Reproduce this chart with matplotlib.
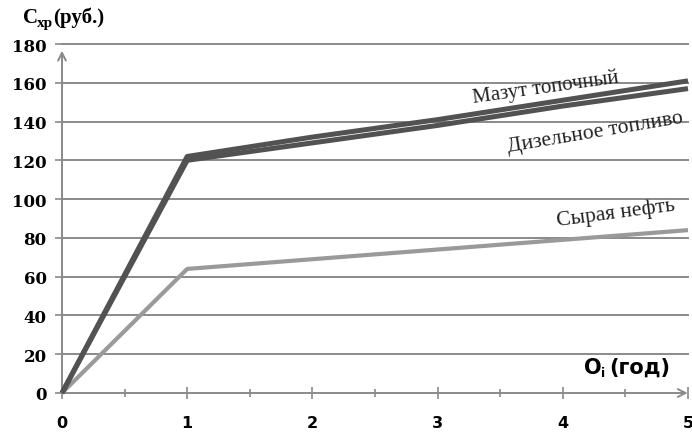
import matplotlib
matplotlib.use("Agg")
import matplotlib.pyplot as plt

years = [0, 1, 2, 3, 4, 5]
mazut = [0, 122, 132, 141, 151, 161]
diesel = [0, 120, 129, 138, 148, 157]
crude = [0, 64, 69, 74, 79, 84]
yticks = [0, 20, 40, 60, 80, 100, 120, 140, 160, 180]
xticks = [0, 1, 2, 3, 4, 5]

fig = plt.figure(figsize=(6.92, 4.35), dpi=100)
ax = fig.add_axes([62/692, 1-394/435, 626/692, 349/435])
ax.set_xlim(0, 5)
ax.set_ylim(0, 180)

grid_c = "#8a8a8a"
for y in yticks[1:]:
    ax.axhline(y, color=grid_c, lw=1.4, zorder=1, clip_on=False)

for s in ax.spines.values():
    s.set_visible(False)

# axes with arrows
ax.annotate("", xy=(5.02, 0), xytext=(0, 0),
            arrowprops=dict(arrowstyle="->", color=grid_c, lw=1.4, mutation_scale=14),
            annotation_clip=False, zorder=2)
ax.annotate("", xy=(0, 178), xytext=(0, 0),
            arrowprops=dict(arrowstyle="->", color=grid_c, lw=1.4, mutation_scale=14),
            annotation_clip=False, zorder=2)

ax.plot(years, crude, color="#9a9a9a", lw=3, zorder=3, clip_on=False, solid_capstyle="butt")
ax.plot(years, diesel, color="#525252", lw=3.6, zorder=4, clip_on=False, solid_capstyle="butt")
ax.plot(years, mazut, color="#525252", lw=3.6, zorder=4, clip_on=False, solid_capstyle="butt")

ax.set_yticks(yticks)
ax.set_xticks(xticks)
ax.set_xticks([0.5, 1.5, 2.5, 3.5, 4.5], minor=True)
ax.tick_params(axis="y", direction="out", length=5, color=grid_c, width=1.2, pad=6)
ax.tick_params(axis="x", which="both", direction="inout", length=8, color=grid_c, width=1.2, pad=12)
ax.tick_params(axis="x", which="minor", length=6)
for lab in ax.get_yticklabels():
    lab.set_fontweight("bold")
    lab.set_fontsize(12)
    lab.set_family("DejaVu Serif")
for lab in ax.get_xticklabels():
    lab.set_fontweight("bold")
    lab.set_fontsize(11.5)
    lab.set_family("DejaVu Sans")

serif = "Liberation Serif"
ax.text(3.86, 158, "Мазут топочный", rotation=8, fontsize=15, family=serif,
        ha="center", va="center", color="#222222")
ax.text(4.26, 134.5, "Дизельное топливо", rotation=9.5, fontsize=15.5, family=serif,
        ha="center", va="center", color="#222222")
ax.text(4.42, 93, "Сырая нефть", rotation=7.5, fontsize=15.5, family=serif,
        ha="center", va="center", color="#222222")

# axis titles
fig.text(23/692, 1-18/435, "C", fontsize=15, fontweight="bold", family=serif, va="center")
fig.text(37/692, 1-23/435, "хр", fontsize=11, fontweight="bold", family=serif, va="center")
fig.text(53/692, 1-18/435, "(руб.)", fontsize=15, fontweight="bold", family=serif, va="center")

fig.text(584/692, 1-368/435, "O", fontsize=15, fontweight="bold", family="DejaVu Sans", va="center")
fig.text(601/692, 1-374/435, "i", fontsize=9, fontweight="bold", family="DejaVu Sans", va="center")
fig.text(609/692, 1-368/435, "(год)", fontsize=15, fontweight="bold", family="DejaVu Sans", va="center")

fig.savefig("out.png", dpi=100)
